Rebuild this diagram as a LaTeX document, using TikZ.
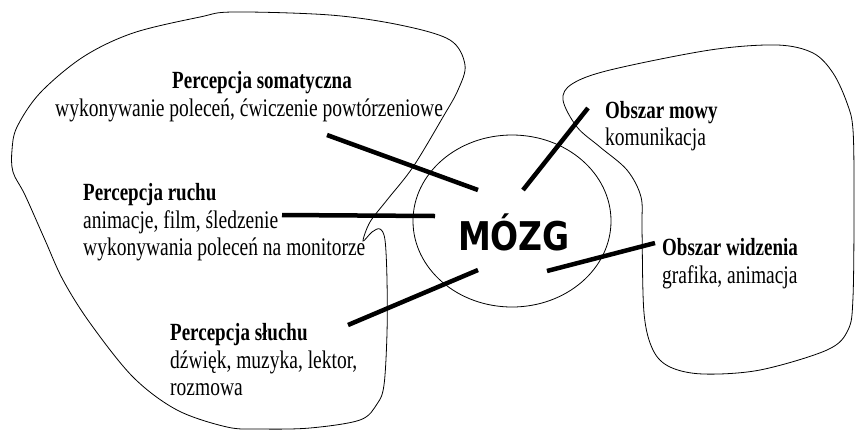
\documentclass[tikz,border=0pt]{standalone}
\usepackage{fontspec}
\setmainfont{Liberation Serif}
\newfontfamily\brainfont{DejaVu Sans}
\usetikzlibrary{shapes.geometric}
\tikzset{
  lbl/.style={anchor=base west, inner sep=0pt, yscale=1.3, font=\fontsize{19.5bp}{22bp}\selectfont},
  head/.style={lbl, font=\fontsize{19bp}{22bp}\selectfont\bfseries},
  link/.style={line width=4.5bp},
  outline/.style={line width=0.8bp},
  brainring/.style={draw, ellipse, line width=0.8bp, minimum width=198bp, minimum height=172bp, inner sep=0pt},
  brainlabel/.style={anchor=base, inner sep=0pt, yscale=1.2, font=\brainfont\bfseries\fontsize{33bp}{36bp}\selectfont}
}
\begin{document}
\begin{tikzpicture}[x=1bp, y=-1bp]
            \useasboundingbox (0,0) rectangle (855,430);
            \begin{scope}
                \draw[outline] plot[smooth cycle, tension=0.55] coordinates {
                    (233,12) (330,15) (400,25) (450,40) (465,65) (458,90) (443,117)
                    (413,167) (387,200) (370,222) (363,241) (372,232) (380,229)
                    (385,240) (387,280) (387,333) (384,385) (377,404) (360,420)
                    (310,428) (260,429) (227,427) (177,410) (133,377) (90,323)
                    (63,280) (45,240) (25,195) (13,172) (12,150) (17,127) (40,93)
                    (83,57) (133,33) (200,17)};
                \draw[outline] plot[smooth cycle, tension=0.55] coordinates {
                    (563,100) (572,84) (610,70) (710,50) (777,45) (813,53) (833,73)
                    (847,103) (853,130) (854,200) (853,297) (848,330) (827,350)
                    (760,370) (703,374) (670,367) (653,350) (644,313) (642,230)
                    (641,197) (627,170) (600,147) (577,127)};
                \node[brainring] at (512,221) (brain) {};
                \node[brainlabel] at (514,250) (mozg) {MÓZG};

                \node[head, anchor=base] at (262,88) (somaHead) {Percepcja somatyczna};
                \node[lbl] at (55,116) (somaText) {wykonywanie poleceń, ćwiczenie powtórzeniowe};
                \node[head] at (83,200) (ruchHead) {Percepcja ruchu};
                \node[lbl] at (83,228) (ruchText1) {animacje, film, śledzenie};
                \node[lbl] at (83,255) (ruchText2) {wykonywania poleceń na monitorze};
                \node[head] at (170,340) (sluchHead) {Percepcja słuchu};
                \node[lbl] at (170,368) (sluchText1) {dźwięk, muzyka, lektor,};
                \node[lbl] at (170,395) (sluchText2) {rozmowa};
                \node[head] at (605,118) (mowaHead) {Obszar mowy};
                \node[lbl] at (605,145) (mowaText) {komunikacja};
                \node[head] at (662,255) (wzrokHead) {Obszar widzenia};
                \node[lbl] at (662,283) (wzrokText) {grafika, animacja};

                \coordinate (somaTip) at (327,135);
                \coordinate (somaEnd) at (478,190);
                \coordinate (mowaTip) at (588,108);
                \coordinate (mowaEnd) at (523,190);
                \coordinate (ruchTip) at (282,215);
                \coordinate (ruchEnd) at (435,216);
                \coordinate (sluchTip) at (348,325);
                \coordinate (sluchEnd) at (478,270);
                \coordinate (wzrokTip) at (655,243);
                \coordinate (wzrokEnd) at (547,271);
                \draw[link] (somaTip) -- (somaEnd);
                \draw[link] (mowaTip) -- (mowaEnd);
                \draw[link] (ruchTip) -- (ruchEnd);
                \draw[link] (sluchTip) -- (sluchEnd);
                \draw[link] (wzrokTip) -- (wzrokEnd);
            \end{scope}
        \end{tikzpicture}
\end{document}
